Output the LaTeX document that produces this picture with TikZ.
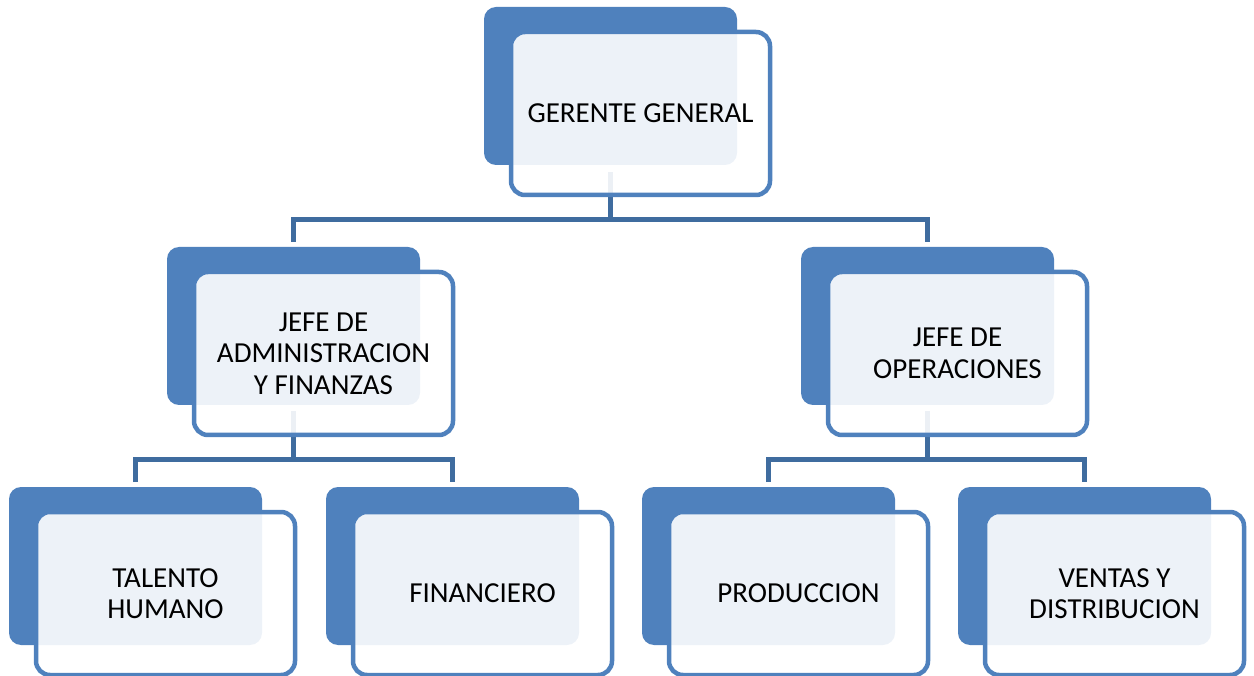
\documentclass[tikz,border=0pt]{standalone}
\usepackage{fontspec}
\setmainfont{Carlito}
\usetikzlibrary{backgrounds}
\definecolor{boxblue}{HTML}{4F81BD}
\definecolor{connblue}{HTML}{3F6C9F}
\begin{document}
\begin{tikzpicture}[x=1pt,y=-1pt,
  back/.style={rectangle, fill=boxblue, rounded corners=12pt, minimum width=253pt, minimum height=158pt, inner sep=0pt, outer sep=0pt, anchor=north west},
  front/.style={rectangle, draw=boxblue, line width=4.5pt, fill=white, fill opacity=0.9, draw opacity=1, text opacity=1, rounded corners=14pt, minimum width=259pt, minimum height=163pt, inner sep=0pt, outer sep=0pt, anchor=north west, align=center, font=\fontsize{29}{31.5}\selectfont},
  link/.style={draw=connblue, line width=5pt}]
\useasboundingbox (0,0) rectangle (1254,676);
% units
\node[back] (gb) at (484,7) {};
\node[front] (g) at (511,32) {GERENTE GENERAL};
\node[back] (ab) at (167,247) {};
\node[front] (a) at (194,272) {JEFE DE\\ADMINISTRACION\\Y FINANZAS};
\node[back] (ob) at (801,247) {};
\node[front] (o) at (828,272) {JEFE DE\\OPERACIONES};
\node[back] (tb) at (9,487) {};
\node[front] (t) at (36,512) {TALENTO\\HUMANO};
\node[back] (fb) at (326,487) {};
\node[front] (f) at (353,512) {FINANCIERO};
\node[back] (pb) at (642,487) {};
\node[front] (p) at (669,512) {PRODUCCION};
\node[back] (vb) at (958,487) {};
\node[front] (v) at (985,512) {VENTAS Y\\DISTRIBUCION};
% connectors
\begin{pgfonlayer}{background}
\path (gb.south) ++(0,55) coordinate (j1);
\path (ab.south) ++(0,54) coordinate (j2);
\path (ob.south) ++(0,54) coordinate (j3);
\draw[link] ([yshift=-7pt]gb.south) -- (j1);
\draw[link] ([yshift=5pt]ab.north) |- (j1) -| ([yshift=5pt]ob.north);
\draw[link] ([yshift=-6pt]ab.south) -- (j2);
\draw[link] ([yshift=5pt]tb.north) |- (j2) -| ([yshift=5pt]fb.north);
\draw[link] ([yshift=-6pt]ob.south) -- (j3);
\draw[link] ([yshift=5pt]pb.north) |- (j3) -| ([yshift=5pt]vb.north);
\end{pgfonlayer}
\end{tikzpicture}
\end{document}
